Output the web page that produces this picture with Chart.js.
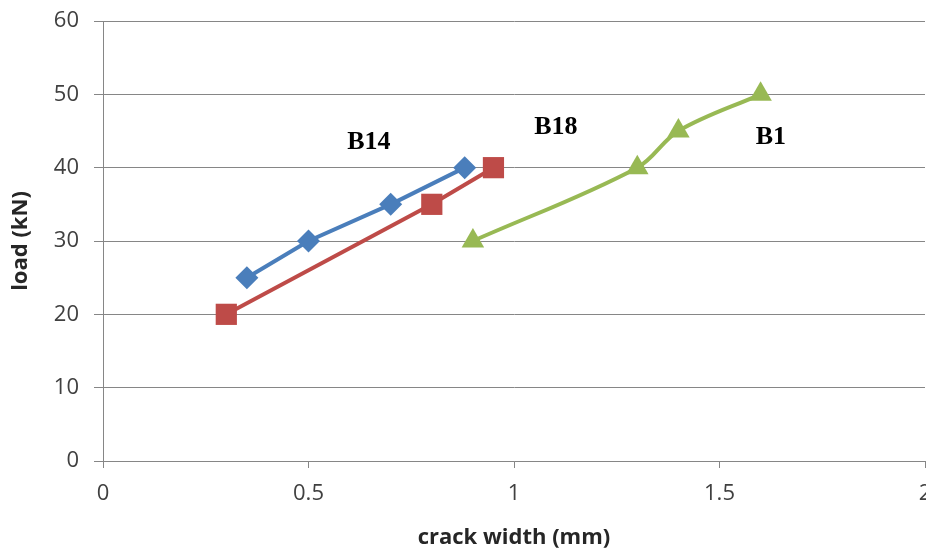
<!DOCTYPE html>
<html>
<head>
<meta charset="utf-8">
<script src="https://cdn.jsdelivr.net/npm/chart.js@4.4.0/dist/chart.umd.min.js"></script>
<style>
  html, body { margin: 0; padding: 0; background: #ffffff; overflow: hidden; }
  #wrap { position: relative; width: 926px; height: 552px; }
</style>
</head>
<body>
<div id="wrap"><canvas id="c" width="926" height="552"></canvas></div>
<script>
// ---- data ----
const b14X = [0.35, 0.5, 0.7, 0.88];
const b14Y = [25, 30, 35, 40];
const b18X = [0.3, 0.8, 0.95];
const b18Y = [20, 35, 40];
const b1X = [0.9, 1.3, 1.4, 1.6];
const b1Y = [30, 40, 45, 50];
const xTicks = [0, 0.5, 1, 1.5, 2];
const yTicks = [0, 10, 20, 30, 40, 50, 60];
const labelText = ['B14', 'B18', 'B1'];
const labelX = [0.647, 1.102, 1.625];
const labelY = [43.5, 45.5, 44.2];

const toPts = (xs, ys) => xs.map((x, i) => ({ x: x, y: ys[i] }));

const labelPlugin = {
  id: 'seriesLabels',
  afterDatasetsDraw(chart) {
    const { ctx, scales } = chart;
    ctx.save();
    ctx.font = 'bold 26px "Liberation Serif", "Times New Roman", serif';
    ctx.fillStyle = '#000000';
    ctx.textAlign = 'center';
    ctx.textBaseline = 'middle';
    labelText.forEach((t, i) => {
      ctx.fillText(t, scales.x.getPixelForValue(labelX[i]), scales.y.getPixelForValue(labelY[i]));
    });
    ctx.restore();
  }
};

const tickFont = { family: '"Open Sans", "Liberation Sans", sans-serif', size: 22 };
const titleFont = { family: '"Open Sans", "Liberation Sans", sans-serif', size: 22, weight: 'bold' };

new Chart(document.getElementById('c'), {
  type: 'scatter',
  data: {
    datasets: [
      {
        label: 'B14',
        data: toPts(b14X, b14Y),
        showLine: true,
        borderColor: '#4A7EBB',
        backgroundColor: '#4A7EBB',
        borderWidth: 4,
        pointStyle: 'rectRot',
        pointRadius: 11.5,
        pointBorderWidth: 0,
        tension: 0
      },
      {
        label: 'B18',
        data: toPts(b18X, b18Y),
        showLine: true,
        borderColor: '#BE4B48',
        backgroundColor: '#BE4B48',
        borderWidth: 4,
        pointStyle: 'rect',
        pointRadius: 15,
        pointBorderWidth: 0,
        tension: 0
      },
      {
        label: 'B1',
        data: toPts(b1X, b1Y),
        showLine: true,
        borderColor: '#98B954',
        backgroundColor: '#98B954',
        borderWidth: 4,
        pointStyle: 'triangle',
        pointRadius: 13,
        pointBorderWidth: 0,
        tension: 0.35
      }
    ]
  },
  options: {
    responsive: false,
    animation: false,
    layout: { autoPadding: false, padding: { top: 21, right: 1, bottom: 0, left: 0 } },
    plugins: {
      legend: { display: false },
      tooltip: { enabled: false }
    },
    scales: {
      x: {
        type: 'linear',
        min: 0,
        max: 2,
        afterBuildTicks(scale) { scale.ticks = xTicks.map(v => ({ value: v })); },
        afterFit(scale) { scale.height = 91; scale.paddingRight = 0; scale.paddingLeft = 0; },
        ticks: {
          color: '#404040',
          font: tickFont,
          padding: 13,
          maxRotation: 0,
          callback: v => String(v)
        },
        grid: {
          display: true,
          drawOnChartArea: false,
          drawTicks: true,
          tickLength: 7,
          color: '#868686'
        },
        border: { display: true, color: '#868686', width: 1 },
        title: {
          display: true,
          text: 'crack width (mm)',
          color: '#262626',
          font: titleFont,
          padding: { top: 6, bottom: 1 }
        }
      },
      y: {
        type: 'linear',
        min: 0,
        max: 60,
        afterBuildTicks(scale) { scale.ticks = yTicks.map(v => ({ value: v })); },
        afterFit(scale) { scale.width = 103; scale.paddingTop = 0; scale.paddingBottom = 0; },
        ticks: {
          color: '#404040',
          font: tickFont,
          padding: 15
        },
        grid: {
          display: true,
          drawOnChartArea: true,
          drawTicks: true,
          tickLength: 9,
          color: '#868686'
        },
        border: { display: true, color: '#868686', width: 1 },
        title: {
          display: true,
          text: 'load (kN)',
          color: '#262626',
          font: titleFont,
          padding: { top: 8, bottom: 4 }
        }
      }
    }
  },
  plugins: [labelPlugin]
});
</script>
</body>
</html>
